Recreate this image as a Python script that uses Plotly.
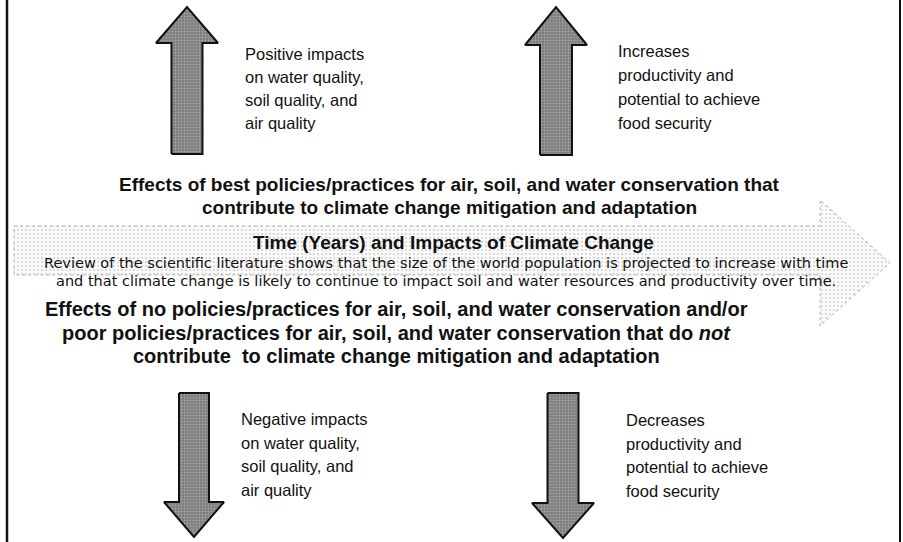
import plotly.graph_objects as go

W, H = 903, 542
FONT = "Arial, 'Liberation Sans', sans-serif"
WIDE_FONT = "'DejaVu Sans', Verdana, sans-serif"

# ---- text content ----
up_left_text = ["Positive impacts", "on water quality,", "soil quality, and", "air quality"]
up_right_text = ["Increases", "productivity and", "potential to achieve", "food security"]
down_left_text = ["Negative impacts", "on water quality,", "soil quality, and", "air quality"]
down_right_text = ["Decreases", "productivity and", "potential to achieve", "food security"]
best_text = ["Effects of best policies/practices for air, soil, and water conservation that",
             "contribute to climate change mitigation and adaptation"]
time_title = "Time (Years) and Impacts of Climate Change"
review_text = ["Review of the scientific literature shows that the size of the world population is projected to increase with time",
               "and that climate change is likely to continue to impact soil and water resources and productivity over time."]
poor_text = ["Effects of no policies/practices for air, soil, and water conservation and/or",
             "poor policies/practices for air, soil, and water conservation that do <i>not</i>",
             "contribute  to climate change mitigation and adaptation"]

# ---- vertical arrows: (center x, shaft half-width, head half-width, tail y, head base y, tip y)
up_arrows = [(187, 15.5, 31, 154, 43, 7), (556, 16, 31, 155, 45, 7)]
down_arrows = [(194, 15, 30, 393, 502, 537), (563, 15.5, 31, 393, 503, 538)]
# ---- horizontal arrow: (x0, body top, body bottom, head base x, head top, head bottom, tip x, tip y)
h_arrow = (14, 226, 275, 820, 200, 326, 890, 263)


def varrow(cx, sw, hw, ytail, ybase, ytip):
    xs = [cx - sw, cx - sw, cx - hw, cx, cx + hw, cx + sw, cx + sw, cx - sw]
    ys = [ytail, ybase, ybase, ytip, ybase, ybase, ytail, ytail]
    return xs, ys


fig = go.Figure()

# horizontal stippled arrow
x0, bt, bb, hx, ht, hb, tx, ty = h_arrow
fig.add_trace(go.Scatter(
    x=[x0, hx, hx, tx, hx, hx, x0, x0],
    y=[bt, bt, ht, ty, hb, bb, bb, bt],
    mode="lines", fill="toself",
    fillcolor="rgba(0,0,0,0)",
    fillpattern=dict(shape=".", fgcolor="#aaaaaa", bgcolor="#fbfbfb", size=4, solidity=0.22),
    line=dict(color="#b0b0b0", width=1, dash="dot"),
    hoverinfo="skip", showlegend=False))

for spec in up_arrows + down_arrows:
    xs, ys = varrow(*spec)
    fig.add_trace(go.Scatter(
        x=xs, y=ys, mode="lines", fill="toself",
        fillcolor="#8a8a8a",
        fillpattern=dict(shape=".", fgcolor="#d0d0d0", bgcolor="#7c7c7c", size=3, solidity=0.3),
        line=dict(color="#111111", width=2),
        hoverinfo="skip", showlegend=False))

ann = []


def add_lines(lines, x, y0, dy, size, bold=False, xanchor="left", family=FONT):
    for i, t in enumerate(lines):
        txt = f"<b>{t}</b>" if bold else t
        ann.append(dict(x=x, y=y0 + i * dy, text=txt, showarrow=False, xanchor=xanchor,
                        yanchor="middle", font=dict(family=family, size=size, color="#111111")))


add_lines(up_left_text, 243, 54, 23, 16.5)
add_lines(up_right_text, 616, 51, 24, 16.5)
add_lines(down_left_text, 239, 419, 23.5, 16.5)
add_lines(down_right_text, 624, 420, 23.5, 16.5)
add_lines(best_text, 449, 184, 23, 19, bold=True, xanchor="center")
add_lines([time_title], 453, 242, 0, 19, bold=True, xanchor="center")
add_lines(review_text, 446, 263, 17.5, 14.5, xanchor="center", family=WIDE_FONT)
add_lines(poor_text, 396, 309, 23.5, 20, bold=True, xanchor="center")

fig.update_layout(
    width=W, height=H, margin=dict(l=0, r=0, t=0, b=0),
    paper_bgcolor="white", plot_bgcolor="white",
    xaxis=dict(range=[0, W], visible=False, fixedrange=True),
    yaxis=dict(range=[H, 0], visible=False, fixedrange=True),
    annotations=ann,
    shapes=[dict(type="line", x0=7, x1=7, y0=0, y1=H, line=dict(color="#111111", width=2.5)),
            dict(type="line", x0=900, x1=900, y0=0, y1=H, line=dict(color="#111111", width=2))],
)

fig.write_html("out.html", config={"displayModeBar": False},
               post_script="document.body.style.margin='0';")
